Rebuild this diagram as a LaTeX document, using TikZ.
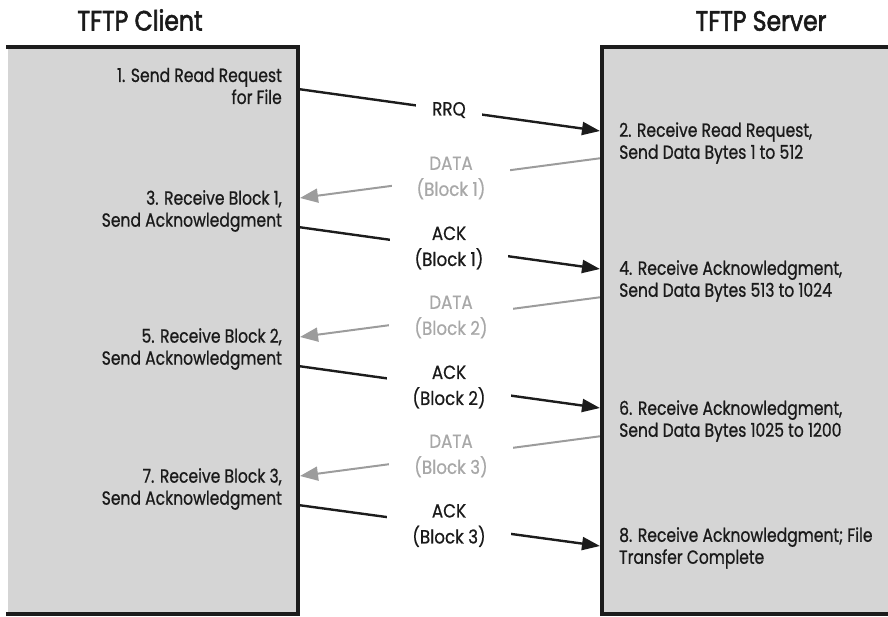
\documentclass[tikz,border=0pt]{standalone}
\usepackage{fontspec}
\setmainfont{Poppins}[FakeStretch=0.82,FakeBold=0.8]
\newfontfamily\titlefont{Poppins}[FakeStretch=0.84,FakeBold=2]
\newfontfamily\labelfont{Poppins}[FakeStretch=0.88,FakeBold=0.6]
\usetikzlibrary{arrows.meta}
\definecolor{boxgray}{HTML}{D5D5D5}
\definecolor{linedark}{HTML}{1C1C1C}
\definecolor{datagray}{HTML}{9C9C9C}
\definecolor{datatext}{HTML}{A8A8A8}
\definecolor{txt}{HTML}{1A1A1A}
\tikzset{
  steptext/.style={inner sep=0pt, text=txt, font=\fontsize{19}{22}\selectfont},
  leftstep/.style={steptext, anchor=east, align=right},
  rightstep/.style={steptext, anchor=west, align=left},
  title/.style={inner sep=0pt, text=txt, font=\titlefont\fontsize{28}{32}\selectfont},
  lab/.style={fill=white, inner ysep=3pt, align=center, font=\labelfont\fontsize{19}{26}\selectfont},
  acklab/.style={lab, text=txt},
  datalab/.style={lab, text=datatext},
  ackarrow/.style={draw=linedark, line width=2.4pt, -{Triangle[length=18pt,width=13pt]}},
  dataarrow/.style={draw=datagray, line width=2pt, -{Triangle[length=18pt,width=14pt]}},
  border/.style={draw=linedark, line width=4pt}
}
\begin{document}
\begin{tikzpicture}[x=1pt,y=-1pt]
\useasboundingbox (0,0) rectangle (888,616);
% boxes
\fill[boxgray] (8,47) rectangle (298,616);
\fill[boxgray] (602,47) rectangle (890,616);
% titles
\node[title] (tclient) at (140,20) {TFTP Client};
\node[title] (tserver) at (761,21) {TFTP Server};
% left steps
\node[leftstep] (s1) at (282,86) {1. Send Read Request\\for File};
\node[leftstep] (s3) at (282,211) {3. Receive Block 1,\\Send Acknowledgment};
\node[leftstep] (s5) at (282,349) {5. Receive Block 2,\\Send Acknowledgment};
\node[leftstep] (s7) at (282,489) {7. Receive Block 3,\\Send Acknowledgment};
% right steps
\node[rightstep] (s2) at (619,143) {2. Receive Read Request,\\Send Data Bytes 1 to 512};
\node[rightstep] (s4) at (619,281) {4. Receive Acknowledgment,\\Send Data Bytes 513 to 1024};
\node[rightstep] (s6) at (619,421) {6. Receive Acknowledgment,\\Send Data Bytes 1025 to 1200};
\node[rightstep] (s8) at (619,548) {8. Receive Acknowledgment; File\\Transfer Complete};
% connector end points
\coordinate (l1) at (298,89);  \coordinate (r1) at (600,131);
\coordinate (r2) at (602,158); \coordinate (l2) at (300,198);
\coordinate (l3) at (298,227); \coordinate (r3) at (600,269);
\coordinate (r4) at (602,297); \coordinate (l4) at (300,337);
\coordinate (l5) at (298,366); \coordinate (r5) at (600,408);
\coordinate (r6) at (602,436); \coordinate (l6) at (300,476);
\coordinate (l7) at (298,505); \coordinate (r7) at (600,546);
% arrows
\draw[ackarrow] (l1) -- node[acklab, inner xsep=16pt] (m1) {RRQ} (r1);
\draw[dataarrow] (r2) -- node[datalab, inner xsep=25pt] (m2) {DATA\\(Block 1)} (l2);
\draw[ackarrow] (l3) -- node[acklab, inner xsep=25pt] (m3) {ACK\\(Block 1)} (r3);
\draw[dataarrow] (r4) -- node[datalab, inner xsep=25pt] (m4) {DATA\\(Block 2)} (l4);
\draw[ackarrow] (l5) -- node[acklab, inner xsep=25pt] (m5) {ACK\\(Block 2)} (r5);
\draw[dataarrow] (r6) -- node[datalab, inner xsep=25pt] (m6) {DATA\\(Block 3)} (l6);
\draw[ackarrow] (l7) -- node[acklab, inner xsep=25pt] (m7) {ACK\\(Block 3)} (r7);
% borders
\draw[border] (6,47) -- (298,47) -- (298,614) -- (6,614);
\draw[border] (892,47) -- (602,47) -- (602,614) -- (892,614);
\end{tikzpicture}
\end{document}
